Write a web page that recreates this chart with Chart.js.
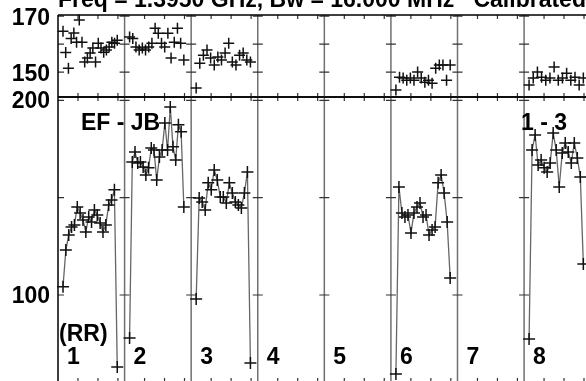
<!DOCTYPE html>
<html><head><meta charset="utf-8">
<script src="https://cdn.jsdelivr.net/npm/chart.js@4.4.0/dist/chart.umd.min.js"></script>
<style>
html,body{margin:0;padding:0;background:#fff;overflow:hidden;width:586px;height:381px}
#wrap{position:relative;width:586px;height:381px;overflow:hidden;background:#fff}
#cTop{position:absolute;left:0;top:0}
#cBot{position:absolute;left:0;top:90px}
</style></head><body>
<div id="wrap"><canvas id="cBot" width="586" height="300"></canvas><canvas id="cTop" width="586" height="100"></canvas></div>
<script>
// ---- data ----
const columns = ['1', '2', '3', '4', '5', '6', '7', '8'];
const baselineLabel = 'EF - JB';
const sourceLabel = '1 - 3';
const stokesLabel = '(RR)';
const titleText = 'Freq = 1.3950 GHz, Bw = 16.000 MHz   Calibrated';

// upper panel, per column
const top1 = [164.6, 157, 151.4, 162, 164, 160.7, 168.6, 160.7, 153.6, 155, 156.8, 158.6, 153.6, 160.3, 158.6, 157.1, 157.9, 159, 160.7, 160.3, 161.4];
const top2 = [162.5, 162, 159, 157.9, 158.6, 157.9, 159, 160.3, 165.7, 163.9, 160.3, 159, 163.9, 155, 160.7, 165.7, 160.3, 154.3];
const top3 = [144.3, 153.2, 156, 157.9, 155, 152.5, 155.4, 154.3, 156.8, 160.3, 153.6, 152.5, 156, 156.8, 154.3, 153.6];
const top6 = [143.6, 148.2, 147.9, 147.1, 147.9, 147.1, 150, 147.9, 146.4, 147.1, 146, 151.4, 152.5, 152.5, 147.1, 152.5];
const top8 = [145.4, 147.9, 150, 148.2, 147.1, 147.9, 151.8, 147.1, 147.9, 149.6, 147.1, 148.2, 145.4, 147.9];

// lower panel, per column
const bot1 = [104.3, 123.1, 130.8, 134.9, 136.0, 145.2, 142.1, 138.5, 132.4, 140.1, 137.5, 143.7, 141.1, 137.0, 132.4, 136.0, 146.2, 148.8, 154.0, 63.0];
const bot2 = [77.9, 168.3, 173.5, 167.8, 168.3, 165.8, 161.7, 165.3, 175.5, 174.5, 159.1, 170.9, 174.5, 188.4, 174.5, 196.6, 176.1, 169.4, 187.4, 183.8, 145.2];
const bot3 = [97.9, 149.8, 147.8, 143.7, 157.6, 154.0, 164.2, 159.1, 150.4, 150.4, 147.3, 157.6, 152.4, 147.8, 146.2, 144.7, 152.4, 163.2, 65.1];
const bot6 = [59.4, 155.5, 142.1, 140.1, 141.1, 131.9, 142.1, 145.2, 147.3, 140.1, 141.1, 130.8, 133.4, 134.9, 157.6, 161.7, 152.4, 137.5, 108.7];
const bot8 = [77.4, 174.5, 182.2, 166.8, 169.4, 165.3, 163.2, 167.8, 183.2, 174.5, 155.5, 172.9, 178.1, 173.5, 167.8, 178.1, 170.4, 160.6, 115.9];

const topSeries = [top1, top2, top3, [], [], top6, [], top8];
const botSeries = [bot1, bot2, bot3, [], [], bot6, [], bot8];

const topTickLabels = [150, 170];
const topTickMarks = [150, 160, 170];
const botTickLabels = [100, 200];
const botTickMarks = [100, 150, 200];
const xMinorOffsets = [0.3, 0.6, 0.9];

// ---- rendering ----
const FONT = '"Liberation Sans", Arial, Helvetica, sans-serif';
const T0 = 0.075, T1 = 0.89;

function toPoints(vals, col) {
  const n = vals.length;
  return vals.map((v, i) => ({ x: col + T0 + (n > 1 ? i * (T1 - T0) / (n - 1) : 0), y: v }));
}

function makeDatasets(series, withLine, r) {
  const out = [];
  series.forEach((vals, c) => {
    if (!vals.length) return;
    out.push({
      label: columns[c],
      data: toPoints(vals, c),
      showLine: withLine,
      borderColor: '#666',
      borderWidth: 1.3,
      pointStyle: 'cross',
      pointRadius: r,
      pointBorderColor: '#111',
      pointBorderWidth: 1.5,
      tension: 0,
      clip: false
    });
  });
  return out;
}

const framePlugin = {
  id: 'frame',
  beforeDatasetsDraw(chart, args, o) {
    const { ctx, chartArea: a, scales: { x, y } } = chart;
    const R = chart.width;
    ctx.save();
    // column boundaries
    ctx.strokeStyle = '#707070';
    ctx.lineWidth = 1.5;
    for (let k = 1; k < columns.length; k++) {
      const px = x.getPixelForValue(k);
      ctx.beginPath(); ctx.moveTo(px, a.top); ctx.lineTo(px, a.bottom); ctx.stroke();
    }
    // minor x ticks
    ctx.strokeStyle = '#333';
    ctx.lineWidth = 1.2;
    for (let k = 0; k < columns.length; k++) {
      xMinorOffsets.forEach(off => {
        const px = x.getPixelForValue(k + off);
        if (px > R) return;
        ctx.beginPath();
        ctx.moveTo(px, a.top); ctx.lineTo(px, a.top + o.tickTop);
        ctx.moveTo(px, a.bottom); ctx.lineTo(px, a.bottom - o.tickBottom);
        ctx.stroke();
      });
    }
    // y tick marks at left axis and at every column boundary
    o.yMarks.forEach(v => {
      const py = y.getPixelForValue(v);
      ctx.beginPath();
      ctx.moveTo(a.left, py); ctx.lineTo(a.left + 6, py);
      for (let k = 1; k < columns.length; k++) {
        const px = x.getPixelForValue(k);
        ctx.moveTo(px - 5, py); ctx.lineTo(px + 5, py);
      }
      ctx.stroke();
    });
    // frame
    ctx.strokeStyle = '#000';
    ctx.lineWidth = 1.5;
    ctx.beginPath();
    ctx.moveTo(a.left, a.top); ctx.lineTo(R, a.top);
    ctx.moveTo(a.left, a.top); ctx.lineTo(a.left, a.bottom);
    ctx.moveTo(a.left, a.bottom); ctx.lineTo(R, a.bottom);
    ctx.stroke();
    ctx.restore();
  },
  afterDraw(chart, args, o) {
    const { ctx, chartArea: a, scales: { x } } = chart;
    ctx.save();
    ctx.fillStyle = '#000';
    ctx.textBaseline = 'alphabetic';
    ctx.textAlign = 'left';
    ctx.font = 'bold 23px ' + FONT;
    (o.texts || []).forEach(t => {
      ctx.fillText(t.text, x.getPixelForValue(t.col) + t.dx, a.top + t.dy);
    });
    ctx.restore();
  }
};

function yScale(min, max, labels, offset) {
  return {
    type: 'linear', position: 'left', min, max,
    afterFit(s) { s.width = 58; s.paddingTop = 0; s.paddingBottom = 0; },
    afterBuildTicks(s) { s.ticks = labels.map(v => ({ value: v })); },
    grid: { display: false, drawTicks: false },
    border: { display: false },
    ticks: { padding: 8, labelOffset: offset, color: '#000', font: { family: FONT, size: 23, weight: 'bold' }, callback: v => String(v) }
  };
}

const common = {
  responsive: false, animation: false, devicePixelRatio: 1, events: [],
  plugins: { legend: { display: false }, tooltip: { enabled: false } }
};

new Chart(document.getElementById('cTop'), {
  type: 'scatter',
  data: { datasets: makeDatasets(topSeries, false, 5.5) },
  options: Object.assign({}, common, {
    layout: { autoPadding: false, padding: { top: 15, bottom: 3, left: 0, right: 0 } },
    scales: {
      x: { type: 'linear', min: 0, max: 7.93, display: false },
      y: yScale(141.1, 170.4, topTickLabels, 3)
    },
    plugins: Object.assign({}, common.plugins, {
      frame: {
        tickTop: 4, tickBottom: 4, yMarks: topTickMarks,
        texts: [{ text: titleText, col: 0, dx: 0, dy: -8 }]
      }
    })
  }),
  plugins: [framePlugin]
});

const botTexts = [
  { text: baselineLabel, col: 0, dx: 23, dy: 33 },
  { text: sourceLabel, col: 7, dx: -3, dy: 33 },
  { text: stokesLabel, col: 0, dx: 1, dy: 244 }
];
columns.forEach((c, i) => botTexts.push({ text: c, col: i, dx: 9, dy: 267 }));

new Chart(document.getElementById('cBot'), {
  type: 'scatter',
  data: { datasets: makeDatasets(botSeries, true, 6) },
  options: Object.assign({}, common, {
    layout: { autoPadding: false, padding: { top: 7, bottom: 7, left: 0, right: 0 } },
    scales: {
      x: { type: 'linear', min: 0, max: 7.93, display: false },
      y: yScale(54.8, 201.7, botTickLabels, 1.5)
    },
    plugins: Object.assign({}, common.plugins, {
      frame: { tickTop: 4, tickBottom: 5, yMarks: botTickMarks, texts: botTexts }
    })
  }),
  plugins: [framePlugin]
});
</script>
</body></html>
